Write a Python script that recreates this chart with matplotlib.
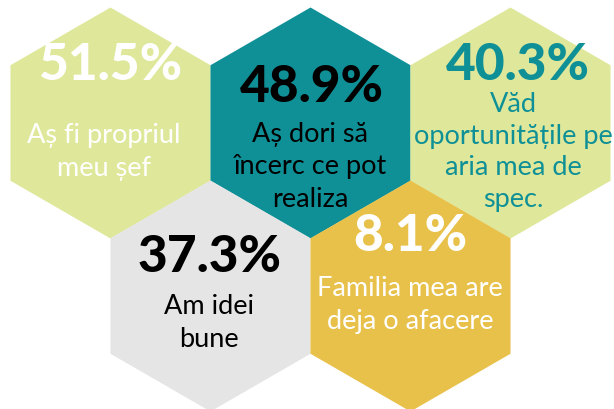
import numpy as np
import matplotlib
matplotlib.use("Agg")
import matplotlib.pyplot as plt
from matplotlib.patches import RegularPolygon

# ---- data ----
values = ["51.5%", "48.9%", "40.3%", "37.3%", "8.1%"]
labels = [
    "Aș fi propriul\nmeu șef",
    "Aș dori să\nîncerc ce pot\nrealiza",
    "Văd\noportunitățile pe\naria mea de\nspec.",
    "Am idei\nbune",
    "Familia mea are\ndeja o afacere",
]
fill_colors = ["#DFE89A", "#0F9097", "#DFE89A", "#E5E5E5", "#E8C14B"]
text_colors = ["#FFFFFF", "#000000", "#0F9097", "#000000", "#FFFFFF"]

# ---- layout (pixels) ----
W, H = 614, 410
R = 115.5
hex_centers = [(110.5, 124), (310.5, 124), (510.5, 124), (210.5, 297), (410.5, 297)]
value_y = [65, 87, 66, 258, 237]
value_x = [110, 312, 518, 210, 410]
label_x = [104, 310, 513, 209, 410]
label_y = [152, 167, 152, 323, 305]
label_spacing = [1.38, 1.38, 1.32, 1.38, 1.38]

fig = plt.figure(figsize=(W / 100, H / 100), dpi=100)
ax = fig.add_axes([0, 0, 1, 1])
ax.set_xlim(0, W)
ax.set_ylim(H, 0)
ax.axis("off")

for (cx, cy), fc in zip(hex_centers, fill_colors):
    ax.add_patch(RegularPolygon((cx, cy), numVertices=6, radius=R,
                                orientation=0, facecolor=fc, edgecolor="none"))

for i in range(len(values)):
    ax.text(value_x[i], value_y[i], values[i], ha="center", va="center",
            fontsize=37, fontweight="black", family="Lato", color=text_colors[i])
    ax.text(label_x[i], label_y[i], labels[i], ha="center", va="center",
            fontsize=19.5, family="Lato", color=text_colors[i],
            linespacing=label_spacing[i])

fig.savefig("out.png", dpi=100)
